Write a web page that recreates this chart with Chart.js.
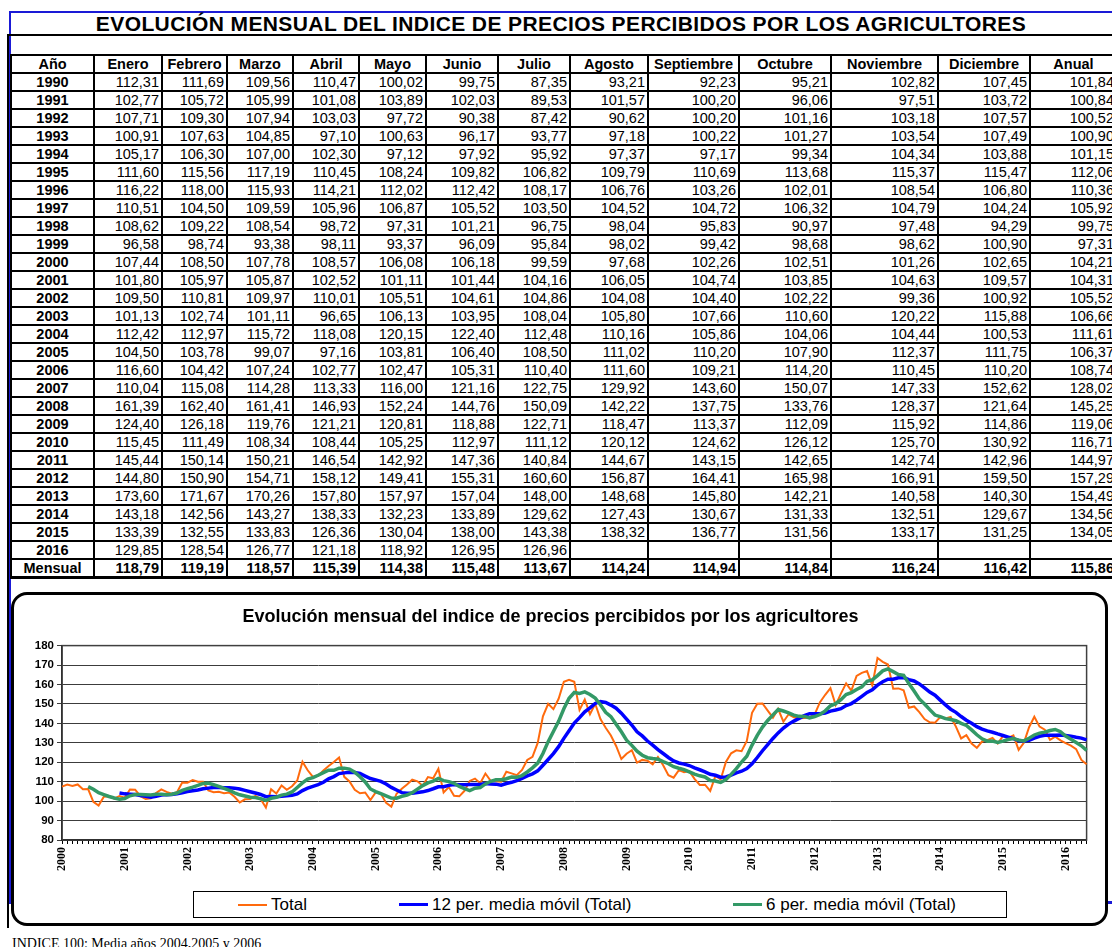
<!DOCTYPE html>
<html><head><meta charset="utf-8">
<script src="https://cdn.jsdelivr.net/npm/chart.js@4.4.1/dist/chart.umd.min.js"></script>
<style>
html,body{margin:0;padding:0;background:#fff;width:1112px;height:947px;overflow:hidden;position:relative;font-family:"Liberation Sans",Arial,sans-serif;color:#000;}
.abs{position:absolute;}
#blueFrame{left:9px;top:11px;width:1120px;height:888px;border-top:2px solid #1a1ad6;border-left:2px solid #1a1ad6;border-bottom:3px solid #1a1ad6;}
#blackLine{left:7px;top:34px;width:1.5px;height:894px;background:#000;}
#title{left:9px;top:12px;width:1104px;height:22px;line-height:23px;text-align:center;font-weight:bold;font-size:21px;letter-spacing:0.4px;border-bottom:2px solid #000;white-space:nowrap;}
table{position:absolute;left:10px;top:54px;border-collapse:collapse;table-layout:fixed;width:1106px;}
td{border:2px solid #000;height:16px;line-height:16px;padding:0 2px 0 0;font-size:14.5px;text-align:right;white-space:nowrap;overflow:hidden;}
td.y{font-weight:bold;text-align:center;padding:0;}
tr.h td{font-weight:bold;text-align:center;padding:0;}
tr.m td{font-weight:bold;}
tr.m td{border-bottom:3px solid #000;}
#chartBox{left:11px;top:592px;width:1097px;height:334px;box-sizing:border-box;border:3px solid #000;border-radius:16px;background:#fff;}
#chartCanvas{position:absolute;left:14px;top:596px;}
#legend{left:193px;top:891px;width:814px;height:27px;box-sizing:border-box;border:1px solid #000;background:#fff;}
.lg{position:absolute;top:0;height:25px;line-height:26px;font-size:17px;white-space:nowrap;}
.lgl{position:absolute;height:0;}
#foot{left:12px;top:937px;font-family:"Liberation Serif","Times New Roman",serif;font-size:14px;line-height:14px;white-space:nowrap;}
</style></head>
<body>
<div id="blueFrame" class="abs"></div>
<div id="blackLine" class="abs"></div>
<div id="title" class="abs">EVOLUCIÓN MENSUAL DEL INDICE DE PRECIOS PERCIBIDOS POR LOS AGRICULTORES</div>
<table id="tbl"></table>
<div id="chartBox" class="abs"></div>
<canvas id="chartCanvas" width="1090" height="290"></canvas>
<div id="legend" class="abs"></div>
<div id="foot" class="abs">INDICE 100: Media años 2004,2005 y 2006</div>
<script>
// ---------- DATA ----------
const headerLabels = ['Año','Enero','Febrero','Marzo','Abril','Mayo','Junio','Julio','Agosto','Septiembre','Octubre','Noviembre','Diciembre','Anual'];
const years = [1990,1991,1992,1993,1994,1995,1996,1997,1998,1999,2000,2001,2002,2003,2004,2005,2006,2007,2008,2009,2010,2011,2012,2013,2014,2015,2016];
const monthlyValues = [
  [112.31,111.69,109.56,110.47,100.02,99.75,87.35,93.21,92.23,95.21,102.82,107.45],
  [102.77,105.72,105.99,101.08,103.89,102.03,89.53,101.57,100.20,96.06,97.51,103.72],
  [107.71,109.30,107.94,103.03,97.72,90.38,87.42,90.62,100.20,101.16,103.18,107.57],
  [100.91,107.63,104.85,97.10,100.63,96.17,93.77,97.18,100.22,101.27,103.54,107.49],
  [105.17,106.30,107.00,102.30,97.12,97.92,95.92,97.37,97.17,99.34,104.34,103.88],
  [111.60,115.56,117.19,110.45,108.24,109.82,106.82,109.79,110.69,113.68,115.37,115.47],
  [116.22,118.00,115.93,114.21,112.02,112.42,108.17,106.76,103.26,102.01,108.54,106.80],
  [110.51,104.50,109.59,105.96,106.87,105.52,103.50,104.52,104.72,106.32,104.79,104.24],
  [108.62,109.22,108.54,98.72,97.31,101.21,96.75,98.04,95.83,90.97,97.48,94.29],
  [96.58,98.74,93.38,98.11,93.37,96.09,95.84,98.02,99.42,98.68,98.62,100.90],
  [107.44,108.50,107.78,108.57,106.08,106.18,99.59,97.68,102.26,102.51,101.26,102.65],
  [101.80,105.97,105.87,102.52,101.11,101.44,104.16,106.05,104.74,103.85,104.63,109.57],
  [109.50,110.81,109.97,110.01,105.51,104.61,104.86,104.08,104.40,102.22,99.36,100.92],
  [101.13,102.74,101.11,96.65,106.13,103.95,108.04,105.80,107.66,110.60,120.22,115.88],
  [112.42,112.97,115.72,118.08,120.15,122.40,112.48,110.16,105.86,104.06,104.44,100.53],
  [104.50,103.78,99.07,97.16,103.81,106.40,108.50,111.02,110.20,107.90,112.37,111.75],
  [116.60,104.42,107.24,102.77,102.47,105.31,110.40,111.60,109.21,114.20,110.45,110.20],
  [110.04,115.08,114.28,113.33,116.00,121.16,122.75,129.92,143.60,150.07,147.33,152.62],
  [161.39,162.40,161.41,146.93,152.24,144.76,150.09,142.22,137.75,133.76,128.37,121.64],
  [124.40,126.18,119.76,121.21,120.81,118.88,122.71,118.47,113.37,112.09,115.92,114.86],
  [115.45,111.49,108.34,108.44,105.25,112.97,111.12,120.12,124.62,126.12,125.70,130.92],
  [145.44,150.14,150.21,146.54,142.92,147.36,140.84,144.67,143.15,142.65,142.74,142.96],
  [144.80,150.90,154.71,158.12,149.41,155.31,160.60,156.87,164.41,165.98,166.91,159.50],
  [173.60,171.67,170.26,157.80,157.97,157.04,148.00,148.68,145.80,142.21,140.58,140.30],
  [143.18,142.56,143.27,138.33,132.23,133.89,129.62,127.43,130.67,131.33,132.51,129.67],
  [133.39,132.55,133.83,126.36,130.04,138.00,143.38,138.32,136.77,131.56,133.17,131.25],
  [129.85,128.54,126.77,121.18,118.92,126.95,126.96]
];
const annualValues = [101.84,100.84,100.52,100.90,101.15,112.06,110.36,105.92,99.75,97.31,104.21,104.31,105.52,106.66,111.61,106.37,108.74,128.02,145.25,119.06,116.71,144.97,157.29,154.49,134.56,134.05,null];
const monthlyMeans = [118.79,119.19,118.57,115.39,114.38,115.48,113.67,114.24,114.94,114.84,116.24,116.42];
const overallMean = 115.86;
// the chart covers Jan 2000 .. May 2016
const chartFirstLabel = '2000-01';
const chartLastLabel = '2016-05';
const yTicks = {min: 80, max: 180, step: 10};

// ---------- TABLE ----------
const fmt = v => (v === null || v === undefined) ? '' : v.toFixed(2).replace('.', ',');
const colWidths = [83,68,65,66,66,67,72,72,78,91,92,107,92,87];
(function buildTable(){
  const t = document.getElementById('tbl');
  let html = '<colgroup>' + colWidths.map(w => `<col style="width:${w}px">`).join('') + '</colgroup>';
  html += '<tr class="h">' + headerLabels.map(h => `<td>${h}</td>`).join('') + '</tr>';
  years.forEach((y, i) => {
    const row = monthlyValues[i];
    let cells = `<td class="y">${y}</td>`;
    for (let m = 0; m < 12; m++) cells += `<td>${fmt(row[m])}</td>`;
    cells += `<td>${fmt(annualValues[i])}</td>`;
    html += `<tr>${cells}</tr>`;
  });
  html += '<tr class="m"><td class="y">Mensual</td>' + monthlyMeans.map(v => `<td>${fmt(v)}</td>`).join('') + `<td>${fmt(overallMean)}</td></tr>`;
  t.innerHTML = html;
})();

// ---------- CHART SERIES ----------
const monthLabels = [];
const totalSeries = [];
years.forEach((y, i) => {
  monthlyValues[i].forEach((v, m) => {
    const lab = y + '-' + String(m + 1).padStart(2, '0');
    if (lab >= chartFirstLabel && lab <= chartLastLabel) {
      monthLabels.push(lab);
      totalSeries.push(v);
    }
  });
});
// Excel-style trailing moving-average trendlines of the Total series
function movingAverage(arr, n) {
  return arr.map((_, i) => {
    if (i < n - 1) return null;
    let s = 0;
    for (let k = i - n + 1; k <= i; k++) s += arr[k];
    return s / n;
  });
}
const ma12 = movingAverage(totalSeries, 12);
const ma6 = movingAverage(totalSeries, 6);

const SANS = "'Liberation Sans', Arial, sans-serif";
const SERIF = "'Liberation Serif', 'Times New Roman', serif";
const COLORS = {total: '#FF6A0D', ma12: '#0000FF', ma6: '#339966'};

const plotBorder = {
  id: 'plotBorder',
  beforeDatasetsDraw(chart) {
    const {ctx, chartArea: a} = chart;
    ctx.save();
    ctx.strokeStyle = '#404040';
    ctx.lineWidth = 1.5;
    ctx.strokeRect(a.left, a.top, a.right - a.left, a.bottom - a.top);
    ctx.restore();
  }
};

const datasets = [
  {label: 'Total', data: totalSeries, borderColor: COLORS.total, backgroundColor: COLORS.total, borderWidth: 2, pointRadius: 0, tension: 0, order: 3},
  {label: '12 per. media móvil (Total)', data: ma12, borderColor: COLORS.ma12, backgroundColor: COLORS.ma12, borderWidth: 3.5, pointRadius: 0, tension: 0, order: 2},
  {label: '6 per. media móvil (Total)', data: ma6, borderColor: COLORS.ma6, backgroundColor: COLORS.ma6, borderWidth: 3.5, pointRadius: 0, tension: 0, order: 1}
];

new Chart(document.getElementById('chartCanvas'), {
  type: 'line',
  data: {labels: monthLabels, datasets},
  options: {
    responsive: false,
    animation: false,
    devicePixelRatio: 1,
    layout: {padding: {left: 0, right: 17, top: 0, bottom: 0}},
    plugins: {
      legend: {display: false},
      tooltip: {enabled: false},
      title: {
        display: true,
        text: 'Evolución mensual del indice de precios percibidos por los agricultores',
        color: '#000',
        font: {family: SANS, size: 18, weight: 'bold'},
        padding: {top: 10, bottom: 18}
      }
    },
    scales: {
      x: {
        type: 'category',
        offset: false,
        grid: {drawOnChartArea: false, drawTicks: true, tickLength: 4, color: '#000', lineWidth: 1},
        border: {color: '#000', width: 1.5},
        ticks: {
          autoSkip: false, minRotation: 90, maxRotation: 90, padding: 3, color: '#000',
          font: {family: SERIF, size: 12, weight: 'bold'},
          callback: function(value) {
            const l = this.getLabelForValue(value);
            return l.endsWith('-01') ? l.slice(0, 4) : '';
          }
        },
        afterFit: s => { s.height = 46; }
      },
      y: {
        min: yTicks.min, max: yTicks.max,
        grid: {color: '#3c3c3c', lineWidth: 1, tickLength: 5},
        border: {color: '#000', width: 1.5},
        ticks: {stepSize: yTicks.step, color: '#000', padding: 3, font: {family: SANS, size: 11.5, weight: 'bold'}},
        afterFit: s => { s.width = 48; }
      }
    }
  },
  plugins: [plotBorder]
});

// ---------- LEGEND (HTML, from the dataset definitions) ----------
(function buildLegend(){
  const lg = document.getElementById('legend');
  const starts = [44, 205, 539];
  datasets.forEach((d, i) => {
    const x = starts[i];
    const line = document.createElement('div');
    line.className = 'lgl';
    line.style.left = x + 'px';
    line.style.top = (13 - d.borderWidth / 2) + 'px';
    line.style.width = '29px';
    line.style.borderTop = d.borderWidth + 'px solid ' + d.borderColor;
    lg.appendChild(line);
    const tx = document.createElement('div');
    tx.className = 'lg';
    tx.style.left = (x + 33) + 'px';
    tx.textContent = d.label;
    lg.appendChild(tx);
  });
})();
</script>
</body></html>
